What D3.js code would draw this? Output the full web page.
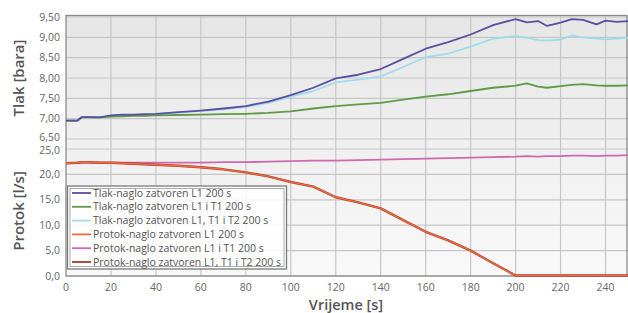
<!DOCTYPE html>
<html lang="hr">
<head>
<meta charset="UTF-8">
<title>Tlak i protok</title>
<script src="https://d3js.org/d3.v7.min.js"></script>
<style>
    body { margin: 0; background: #fff; }
    svg { display: block; font-family: "Open Sans", sans-serif; }
    .tick_text { font-size: 10.5px; fill: #666; }
    .axis_title { font-size: 15px; fill: #555; font-weight: 600; }
    .legend_text { font-size: 10.5px; fill: #555; }
</style>
</head>
<body>
<svg width="628" height="313"></svg>
<script>
    // time axis (s)
    const time = [0, 5, 7, 10, 15, 20, 25, 30, 35, 40, 50, 60, 70, 80, 90, 100, 110, 120, 130, 140,
        150, 160, 170, 180, 190, 200, 205, 210, 214, 220, 225, 230, 236, 240, 245, 250];

    // pressure series [bara]
    const tlakL1 = [6.95, 6.95, 7.04, 7.04, 7.03, 7.08, 7.10, 7.10, 7.11, 7.12, 7.16, 7.20, 7.25, 7.31, 7.42, 7.58, 7.76, 7.99, 8.08, 8.22,
        8.47, 8.72, 8.88, 9.07, 9.30, 9.45, 9.37, 9.40, 9.28, 9.36, 9.45, 9.43, 9.32, 9.41, 9.38, 9.40];
    const tlakL1T1 = [6.95, 6.95, 7.03, 7.03, 7.03, 7.05, 7.06, 7.07, 7.07, 7.08, 7.09, 7.10, 7.11, 7.12, 7.14, 7.18, 7.25, 7.31, 7.35, 7.39,
        7.47, 7.54, 7.60, 7.68, 7.76, 7.81, 7.87, 7.79, 7.76, 7.80, 7.83, 7.85, 7.82, 7.81, 7.81, 7.82];
    const tlakL1T1T2 = [6.95, 6.95, 7.03, 7.03, 7.03, 7.07, 7.09, 7.09, 7.10, 7.11, 7.15, 7.19, 7.23, 7.29, 7.39, 7.54, 7.68, 7.89, 7.96, 8.04,
        8.27, 8.51, 8.60, 8.77, 8.97, 9.03, 8.99, 8.93, 8.92, 8.94, 9.05, 9.00, 8.97, 8.95, 8.97, 8.99];

    // flow series [l/s]
    const protokL1 = [22.2, 22.3, 22.4, 22.4, 22.3, 22.3, 22.2, 22.1, 22.0, 21.9, 21.7, 21.4, 21.0, 20.4, 19.6, 18.5, 17.6, 15.5, 14.5, 13.3,
        11.0, 8.7, 7.0, 5.0, 2.5, 0.1, 0.1, 0.1, 0.1, 0.1, 0.1, 0.1, 0.1, 0.1, 0.1, 0.1];
    const protokL1T1 = [22.2, 22.2, 22.3, 22.3, 22.3, 22.3, 22.3, 22.3, 22.3, 22.3, 22.3, 22.3, 22.4, 22.4, 22.5, 22.6, 22.7, 22.7, 22.8, 22.9,
        23.0, 23.1, 23.2, 23.3, 23.4, 23.5, 23.6, 23.5, 23.6, 23.6, 23.7, 23.7, 23.6, 23.7, 23.7, 23.8];
    const protokL1T1T2 = protokL1.slice();

    const tlakTicks = [6.5, 7.0, 7.5, 8.0, 8.5, 9.0, 9.5];
    const protokTicks = [0, 5, 10, 15, 20, 25];
    const timeTicks = [0, 20, 40, 60, 80, 100, 120, 140, 160, 180, 200, 220, 240];

    const legendLabels = [
        "Tlak-naglo zatvoren L1 200 s",
        "Tlak-naglo zatvoren L1 i T1 200 s",
        "Tlak-naglo zatvoren L1, T1 i T2 200 s",
        "Protok-naglo zatvoren L1 200 s",
        "Protok-naglo zatvoren L1 i T1 200 s",
        "Protok-naglo zatvoren L1, T1 i T2 200 s"
    ];
    const legendColors = ["#574fa0", "#5e9a47", "#9edcec", "#ef6a40", "#cc6aae", "#a83a28"];

    let svg = d3.select("svg");

    // scales
    let x = d3.scaleLinear().domain([0, 250]).range([66, 628]);
    let yTop = d3.scaleLinear().domain([6.5, 9.5]).range([139, 17]);
    let yBot = d3.scaleLinear().domain([0, 25]).range([276, 149]);

    const plotTop = 15.5, plotBottom = 276;

    // background gradient
    let grad = svg.append("defs").append("linearGradient")
        .attr("id", "bg").attr("x1", 0).attr("y1", 0).attr("x2", 0).attr("y2", 1);
    grad.append("stop").attr("offset", "0%").attr("stop-color", "#e6e6e6");
    grad.append("stop").attr("offset", "100%").attr("stop-color", "#f9f9f9");

    svg.append("rect")
        .attr("x", x(0)).attr("y", plotTop)
        .attr("width", x(250) - x(0)).attr("height", plotBottom - plotTop)
        .attr("fill", "url(#bg)");

    // grid
    let grid = svg.append("g").attr("stroke", "#c6c6c6").attr("stroke-width", 1.2);
    grid.selectAll(".vg").data(timeTicks.slice(1)).enter().append("line")
        .attr("x1", d => x(d)).attr("x2", d => x(d))
        .attr("y1", plotTop).attr("y2", plotBottom);
    grid.selectAll(".hgt").data(tlakTicks).enter().append("line")
        .attr("x1", x(0)).attr("x2", x(250))
        .attr("y1", d => yTop(d)).attr("y2", d => yTop(d));
    grid.selectAll(".hgb").data(protokTicks).enter().append("line")
        .attr("x1", x(0)).attr("x2", x(250))
        .attr("y1", d => yBot(d)).attr("y2", d => yBot(d));

    // border
    svg.append("rect")
        .attr("x", x(0)).attr("y", plotTop)
        .attr("width", x(250) - x(0) - 1).attr("height", plotBottom - plotTop)
        .attr("fill", "none").attr("stroke", "#8a8a8a").attr("stroke-width", 1.3);

    // tick labels
    const fmt2 = d => d3.format(".2f")(d).replace(".", ",");
    const fmt1 = d => d3.format(".1f")(d).replace(".", ",");
    svg.selectAll(".tt").data(tlakTicks).enter().append("text")
        .attr("class", "tick_text")
        .attr("x", 60).attr("y", d => yTop(d) - (d === 6.5 ? 1.5 : 0)).attr("dy", "0.35em")
        .attr("text-anchor", "end").text(fmt2);
    svg.selectAll(".tb").data(protokTicks).enter().append("text")
        .attr("class", "tick_text")
        .attr("x", 60).attr("y", d => yBot(d) + (d === 25 ? 1.5 : 0)).attr("dy", "0.35em")
        .attr("text-anchor", "end").text(fmt1);
    svg.selectAll(".tx").data(timeTicks).enter().append("text")
        .attr("class", "tick_text")
        .attr("x", d => x(d)).attr("y", 290.5)
        .attr("text-anchor", "middle").text(d => d);

    // axis titles
    svg.append("text").attr("class", "axis_title")
        .attr("transform", "translate(24,78) rotate(-90)")
        .attr("text-anchor", "middle").text("Tlak [bara]");
    svg.append("text").attr("class", "axis_title")
        .attr("transform", "translate(24,211) rotate(-90)")
        .attr("text-anchor", "middle").text("Protok [l/s]");
    svg.append("text").attr("class", "axis_title")
        .attr("x", 346).attr("y", 310)
        .style("font-size", "14.5px")
        .attr("text-anchor", "middle").text("Vrijeme [s]");

    // lines
    let lineTop = d3.line().x((d, i) => x(time[i])).y(d => yTop(d));
    let lineBot = d3.line().x((d, i) => x(time[i])).y(d => yBot(d));

    const series = [
        {values: tlakL1T1T2, line: lineTop, color: legendColors[2], w: 1.8},
        {values: tlakL1T1, line: lineTop, color: legendColors[1], w: 1.8},
        {values: tlakL1, line: lineTop, color: legendColors[0], w: 1.8},
        {values: protokL1T1, line: lineBot, color: legendColors[4], w: 1.8},
        {values: protokL1T1T2, line: lineBot, color: legendColors[5], w: 2.4},
        {values: protokL1, line: lineBot, color: legendColors[3], w: 1.4}
    ];

    svg.append("g").selectAll("path").data(series).enter().append("path")
        .attr("d", d => d.line(d.values))
        .attr("fill", "none")
        .attr("stroke", d => d.color)
        .attr("stroke-width", d => d.w)
        .attr("stroke-linejoin", "round");

    // legend
    let legend = svg.append("g");
    legend.append("rect")
        .attr("x", 67.5).attr("y", 186).attr("width", 219).attr("height", 83)
        .attr("fill", "#fff").attr("fill-opacity", 0.85)
        .attr("stroke", "#7a7a7a").attr("stroke-width", 1.3);
    legend.append("rect")
        .attr("x", 70).attr("y", 188.5).attr("width", 214).attr("height", 78)
        .attr("fill", "none").attr("stroke", "#9a9a9a").attr("stroke-width", 0.8);
    let rows = legend.selectAll(".row").data(legendLabels).enter().append("g")
        .attr("transform", (d, i) => "translate(0," + (193 + i * 13.8) + ")");
    rows.append("line")
        .attr("x1", 72).attr("x2", 91).attr("y1", 0).attr("y2", 0)
        .attr("stroke", (d, i) => legendColors[i]).attr("stroke-width", 1.8);
    rows.append("text").attr("class", "legend_text")
        .attr("x", 93).attr("y", 0).attr("dy", "0.35em")
        .text(d => d);
</script>
</body>
</html>
